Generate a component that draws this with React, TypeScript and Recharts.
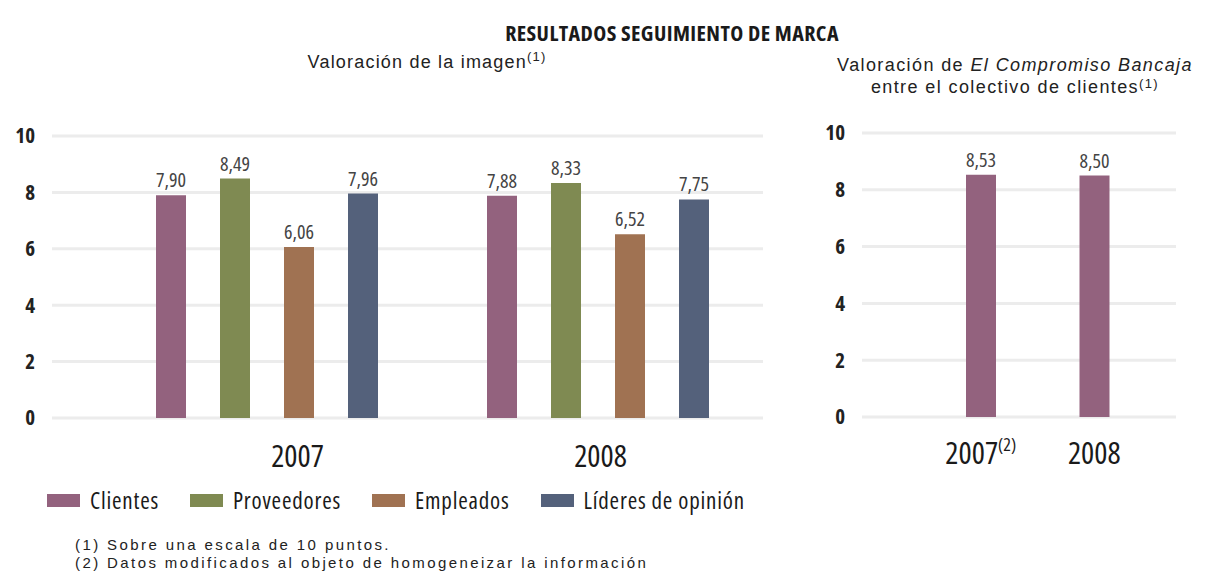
import React from 'react';
import { BarChart, Bar, XAxis, YAxis, CartesianGrid, LabelList } from 'recharts';

// Valoración de la imagen (escala 0-10)
const YEARS = ['2007', '2008'];
const SERIES = ['Clientes', 'Proveedores', 'Empleados', 'Líderes de opinión'];
const CLIENTES = [7.9, 7.88];
const PROVEEDORES = [8.49, 8.33];
const EMPLEADOS = [6.06, 6.52];
const LIDERES = [7.96, 7.75];

// Valoración de El Compromiso Bancaja entre clientes
const COMPROMISO_YEARS = ['2007', '2008'];
const COMPROMISO_NOTES = ['(2)', ''];
const COMPROMISO = [8.53, 8.5];

const Y_TICKS = [0, 2, 4, 6, 8, 10];

const COLORS = ['#93627e', '#7f8a52', '#a07252', '#54617b'];
const GRID = '#ececec';
const COND = "'Open Sans', 'DejaVu Sans', sans-serif";
const PLAIN = "'Liberation Sans', Arial, sans-serif";

const imageData = YEARS.map((year, i) => ({
  year,
  clientes: CLIENTES[i],
  proveedores: PROVEEDORES[i],
  empleados: EMPLEADOS[i],
  lideres: LIDERES[i],
}));
const keys = ['clientes', 'proveedores', 'empleados', 'lideres'];

const compromisoData = COMPROMISO_YEARS.map((year, i) => ({
  year,
  note: COMPROMISO_NOTES[i],
  value: COMPROMISO[i],
}));

const fmt = (v: any) => Number(v).toFixed(2).replace('.', ',');

const condStyle = { fontFamily: COND, fontStretch: 'condensed' as const };

const yTick = { fontSize: 21, fontWeight: 700, fill: '#222', style: condStyle };

// the 2007 year label sits a bit right of its bar group in the original
const YEAR_DX = [31, 3];

function YearTick({ x, y, payload, index }: any) {
  return (
    <text x={x + YEAR_DX[index]} y={y + 47} textAnchor="middle" fontSize={31} fontWeight={500} fill="#1a1a1a" style={condStyle}>
      {payload.value}
    </text>
  );
}

function NoteYearTick({ x, y, payload, index }: any) {
  const note = compromisoData[index]?.note;
  return (
    <text x={x} y={y + 45} textAnchor="middle" fontSize={31} fontWeight={500} fill="#1a1a1a" style={condStyle}>
      {payload.value}
      {note ? (
        <tspan fontSize={18} dy={-13}>{note}</tspan>
      ) : null}
    </text>
  );
}

const labelProps = {
  position: 'top' as const,
  offset: 8,
  formatter: fmt,
  fontSize: 20,
  fill: '#444',
  style: condStyle,
};

export default function App() {
  return (
    <div style={{ position: 'absolute', left: 0, top: 0, width: 1207, height: 579, background: '#fff' }}>
      <div
        style={{
          position: 'absolute', left: 472, top: 17, width: 400, textAlign: 'center',
          fontSize: 22, fontWeight: 700, letterSpacing: 0.4, color: '#1a1a1a', ...condStyle,
        }}
      >
        RESULTADOS SEGUIMIENTO DE MARCA
      </div>
      <div
        style={{
          position: 'absolute', left: 227, top: 49, width: 400, textAlign: 'center',
          fontSize: 18, letterSpacing: 1.2, color: '#222', fontFamily: PLAIN,
        }}
      >
        Valoración de la imagen<sup style={{ fontSize: 13 }}>(1)</sup>
      </div>
      <div
        style={{
          position: 'absolute', left: 815, top: 54, width: 400, textAlign: 'center',
          fontSize: 18, letterSpacing: 1.4, lineHeight: '22px', color: '#222', fontFamily: PLAIN,
        }}
      >
        <div>
          Valoración de <i>El Compromiso Bancaja</i>
        </div>
        <div>
          entre el colectivo de clientes
          <span style={{ fontSize: 13, position: 'relative', top: -5 }}>(1)</span>
        </div>
      </div>

      <div style={{ position: 'absolute', left: 0, top: 100 }}>
        <BarChart
          width={780}
          height={380}
          data={imageData}
          margin={{ top: 36, right: 17, bottom: 12, left: 0 }}
          barSize={30}
          barGap={34}
        >
          <CartesianGrid vertical={false} stroke={GRID} strokeWidth={3} />
          <XAxis
            dataKey="year"
            height={50}
            axisLine={false}
            tickLine={false}
            tickSize={0}
            padding={{ left: 49, right: 0 }}
            tick={<YearTick />}
          />
          <YAxis
            width={52}
            domain={[0, 10]}
            ticks={Y_TICKS}
            axisLine={false}
            tickLine={false}
            tickSize={0}
            tickMargin={17}
            tick={yTick}
          />
          {keys.map((k, i) => (
            <Bar key={k} dataKey={k} name={SERIES[i]} fill={COLORS[i]} isAnimationActive={false}>
              <LabelList dataKey={k} {...labelProps} />
            </Bar>
          ))}
        </BarChart>
      </div>

      <div style={{ position: 'absolute', left: 800, top: 100 }}>
        <BarChart
          width={407}
          height={380}
          data={compromisoData}
          margin={{ top: 33, right: 31, bottom: 13, left: 0 }}
          barSize={30}
        >
          <CartesianGrid vertical={false} stroke={GRID} strokeWidth={3} />
          <XAxis
            dataKey="year"
            height={50}
            axisLine={false}
            tickLine={false}
            tickSize={0}
            padding={{ left: 62, right: 25 }}
            tick={<NoteYearTick />}
          />
          <YAxis
            width={62}
            domain={[0, 10]}
            ticks={Y_TICKS}
            axisLine={false}
            tickLine={false}
            tickSize={0}
            tickMargin={17}
            tick={yTick}
          />
          <Bar dataKey="value" name="Clientes" fill={COLORS[0]} isAnimationActive={false}>
            <LabelList dataKey="value" {...labelProps} />
          </Bar>
        </BarChart>
      </div>

      {/* legend */}
      <div style={{ position: 'absolute', left: 47, top: 484, display: 'flex', alignItems: 'center' }}>
        {SERIES.map((s, i) => (
          <div key={s} style={{ display: 'flex', alignItems: 'center', marginRight: 31 }}>
            <span style={{ display: 'inline-block', width: 33, height: 13, background: COLORS[i], marginRight: 10 }} />
            <span style={{ fontSize: 23, fontWeight: 500, letterSpacing: 0.8, color: '#1a1a1a', ...condStyle }}>{s}</span>
          </div>
        ))}
      </div>

      <div
        style={{
          position: 'absolute', left: 75, top: 536, fontSize: 15, letterSpacing: 2.4,
          lineHeight: '18px', color: '#222', fontFamily: PLAIN,
        }}
      >
        (1) Sobre una escala de 10 puntos.
        <br />
        (2) Datos modificados al objeto de homogeneizar la información
      </div>
    </div>
  );
}
